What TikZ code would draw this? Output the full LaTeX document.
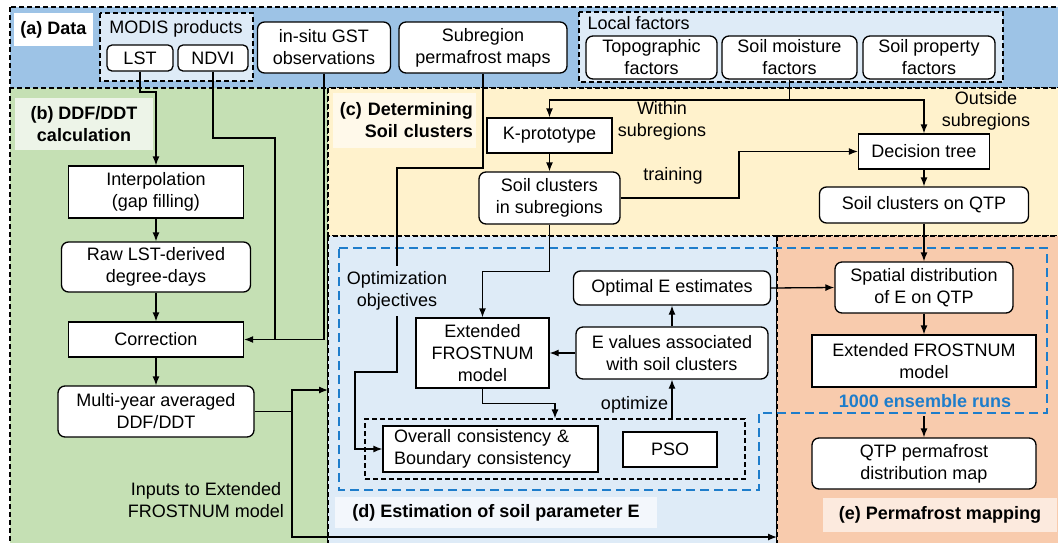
\documentclass[tikz,border=0pt]{standalone}
\usepackage{fontspec}
\setmainfont{Liberation Sans}
\usetikzlibrary{arrows.meta}
\definecolor{dataBlue}{HTML}{9DC3E6}
\definecolor{ddfGreen}{HTML}{C5E0B4}
\definecolor{clusYellow}{HTML}{FFF2CC}
\definecolor{estBlue}{HTML}{DEEBF7}
\definecolor{mapOrange}{HTML}{F8CBAD}
\definecolor{ddfTag}{HTML}{EDF4E8}
\definecolor{clusTag}{HTML}{FFF9EA}
\definecolor{estTag}{HTML}{F3F7FC}
\definecolor{mapTag}{HTML}{FCEADE}
\definecolor{ensBlue}{HTML}{1E7DCB}
\begin{document}
\begin{tikzpicture}[x=1pt, y=-1pt, >={Latex[length=9pt,width=7pt]}, line width=1.3pt,
  every node/.style={font=\fontsize{18}{22}\selectfont},
  region/.style={draw, dash pattern=on 5pt off 3pt, line width=1.1pt},
  sqbox/.style={draw, fill=white, align=center, inner sep=0pt},
  rndbox/.style={sqbox, rounded corners=7pt},
  lbl/.style={align=center},
  tag/.style={font=\fontsize{18}{22}\selectfont\bfseries, align=center, inner sep=0pt}]
\useasboundingbox (0,0) rectangle (1058,542);
\draw[region, fill=dataBlue] (10,7) rectangle (1064,88);
\draw[region, fill=ddfGreen] (10,88) rectangle (328,548);
\draw[region, fill=clusYellow] (328,88) rectangle (1064,236);
\draw[region, fill=estBlue] (328,236) rectangle (777,548);
\draw[region, fill=mapOrange] (777,236) rectangle (1064,548);
\node[tag, fill=white, minimum width=79, minimum height=33] (tagA) at (53.5,29.5) {(a) Data};
\node[tag, fill=ddfTag, minimum width=138, minimum height=52] (tagB) at (84,124) {(b) DDF/DDT\\calculation};
\node[tag, fill=clusTag, text width=137, inner xsep=3, minimum height=55, align=right] (tagC) at (404.5,120.5) {(c) Determining\\Soil clusters};
\node[tag, fill=estTag, minimum width=322, minimum height=31] (tagD) at (496,512.5) {(d) Estimation of soil parameter E};
\node[tag, fill=mapTag, minimum width=234, minimum height=34] (tagE) at (940,515) {(e) Permafrost mapping};
\draw[region, fill=estBlue] (100,13) rectangle (253,81);
\draw[region, fill=estBlue] (579,12) rectangle (1003,82);
\node (modisLbl) at (176,29) {MODIS products};
\node[anchor=west, inner sep=0pt] (localLbl) at (587,23) {Local factors};
\draw[draw=ensBlue, line width=2pt, dash pattern=on 9pt off 5pt] (339,248) -- (1047,248) -- (1047,413) -- (759,413) -- (759,490) -- (339,490) -- cycle;
\node[region, minimum width=380, minimum height=60] (optbox) at (555,449) {};

\node[rndbox, rounded corners=5pt, minimum width=66, minimum height=26] (lst) at (140,58) {LST};
\node[rndbox, rounded corners=5pt, minimum width=70, minimum height=26] (ndvi) at (213,58) {NDVI};
\node[rndbox, minimum width=133, minimum height=51] (gst) at (324,47.5) {in-situ GST\\observations};
\node[rndbox, minimum width=168, minimum height=51] (smap) at (483,47.5) {Subregion\\permafrost maps};
\node[rndbox, minimum width=131, minimum height=43] (topo) at (651.5,57.5) {Topographic\\factors};
\node[rndbox, minimum width=135, minimum height=43] (soilm) at (789.5,57.5) {Soil moisture\\factors};
\node[rndbox, minimum width=132, minimum height=43] (soilp) at (929,57.5) {Soil property\\factors};

\node[sqbox, minimum width=175, minimum height=52] (interp) at (156,192) {Interpolation\\(gap filling)};
\node[rndbox, minimum width=189, minimum height=50] (rawlst) at (156,267) {Raw LST-derived\\degree-days};
\node[sqbox, minimum width=175, minimum height=35] (corr) at (156,339.5) {Correction};
\node[rndbox, minimum width=196, minimum height=51] (multi) at (156,411.5) {Multi-year averaged\\DDF/DDT};

\node[sqbox, minimum width=125, minimum height=35] (kproto) at (549.5,135.5) {K-prototype};
\node[rndbox, minimum width=141, minimum height=52] (sclsub) at (549.5,198) {Soil clusters\\in subregions};
\node[sqbox, minimum width=131, minimum height=35] (dtree) at (924,151.5) {Decision tree};
\node[rndbox, minimum width=209, minimum height=36] (sclqtp) at (924,205) {Soil clusters on QTP};

\node[sqbox, minimum width=133, minimum height=70] (extd) at (482.5,353) {Extended\\FROSTNUM\\model};
\node[rndbox, minimum width=197, minimum height=34] (optE) at (672,288) {Optimal E estimates};
\node[rndbox, minimum width=192, minimum height=52] (Evals) at (672,353) {E values associated\\with soil clusters};
\node[sqbox, text width=193, inner xsep=11, minimum height=46, align=left] (overall) at (490.5,449) {Overall consistency \&\\Boundary consistency};
\node[sqbox, minimum width=94, minimum height=35] (pso) at (670,449.5) {PSO};

\node[rndbox, minimum width=178, minimum height=51] (spat) at (924,287.5) {Spatial distribution\\of E on QTP};
\node[sqbox, minimum width=224, minimum height=52] (exte) at (924,361) {Extended FROSTNUM\\model};
\node[rndbox, minimum width=224, minimum height=51] (qtp) at (924,463.5) {QTP permafrost\\distribution map};

\node[lbl] (withinLbl) at (662,121) {Within\\subregions};
\node[lbl] (outsideLbl) at (986,111) {Outside\\subregions};
\node[lbl] (trainLbl) at (673,176) {training};
\node[lbl] (inputLbl) at (206,500) {Inputs to Extended\\FROSTNUM model};
\node[lbl, fill=estBlue, inner sep=5pt] (optObj) at (397,291) {Optimization\\objectives};
\node[lbl, text=ensBlue, font=\fontsize{18}{22}\selectfont\bfseries] (ensLbl) at (925,401) {1000 ensemble runs};

\coordinate (split) at (789.5,100);
\coordinate (dIn) at (328,390);
\coordinate (eIn) at (777,537);
\coordinate (ensOut) at (924,416);

\draw[->] (lst.south) |- (156,92) -- (interp.north);
\draw (ndvi.south) |- (275,138) -- (275,339.5);
\draw[->] (gst.south) |- (corr.east);
\foreach \a/\b in {interp/rawlst,rawlst/corr,corr/multi,kproto/sclsub,dtree/sclqtp,sclqtp/spat,spat/exte,Evals/optE}
{
    \draw[->] (\a) -- (\b);
}
\draw[->] (multi.east) -- (292,411.5) |- (dIn);
\draw[->] (292,411.5) |- (eIn);
\draw (soilm.south) -- (split);
\draw[->] (split) -| (kproto.north);
\draw[->] (split) -| (dtree.north);
\draw[->] (sclsub.east) -- (739,198) |- (dtree.west);
\draw (smap.south) |- (397,168) -- (optObj.north);
\draw[->] (optObj.south) -- (397,372) -| (355,449) -- (overall.west);
\draw[->] (sclsub.south) -- ++(0,47) -| (extd.north);
\draw[->] (extd.south) -- ++(0,15) -| (optbox.north);
\draw[->] (optbox.north -| Evals.south) -- node[left, pos=.35] (optLbl) {optimize} (Evals.south);
\draw[->] (Evals.west) -- (extd.east);
\draw[->] (optE.east) -- (spat.west);
\draw[->] (ensOut) -- (qtp.north);
\end{tikzpicture}
\end{document}
